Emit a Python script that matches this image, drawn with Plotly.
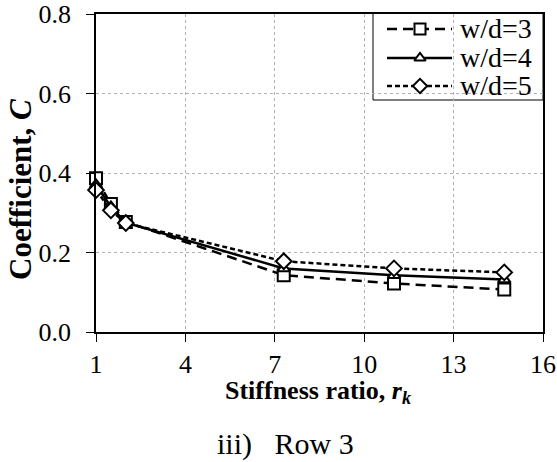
import plotly.graph_objects as go

# ---- data ----
stiffness_ratio = [1.0, 1.5, 2.0, 7.3, 11.0, 14.7]
series_names = ["w/d=3", "w/d=4", "w/d=5"]
c_wd3 = [0.387, 0.322, 0.277, 0.143, 0.122, 0.107]
c_wd4 = [0.370, 0.315, 0.275, 0.160, 0.143, 0.132]
c_wd5 = [0.357, 0.306, 0.274, 0.178, 0.160, 0.150]
x_ticks = [1, 4, 7, 10, 13, 16]
y_ticks = [0.0, 0.2, 0.4, 0.6, 0.8]

FONT = "Liberation Serif"
W, H = 557, 462
L, R, T, B = 96, 14, 14, 130
PW, PH = W - L - R, H - T - B

def px(xp):
    return (xp - L) / PW

def py(yp):
    return (H - B - yp) / PH

styles = [
    dict(dash="10px,6px", symbol="square", size=12),
    dict(dash="solid", symbol="triangle-up", size=11),
    dict(dash="5px,3px", symbol="diamond", size=12),
]
values = [c_wd3, c_wd4, c_wd5]

fig = go.Figure()
for name, vals, st in zip(series_names, values, styles):
    fig.add_trace(go.Scatter(
        x=stiffness_ratio, y=vals, name=name, mode="lines+markers",
        line=dict(color="black", width=2.5, dash=st["dash"]),
        marker=dict(symbol=st["symbol"], size=st["size"], color="white",
                    line=dict(color="black", width=2)),
        showlegend=False, cliponaxis=False))

# ---- custom legend ----
row_y = [29, 58, 86]
shapes = [dict(type="rect", xref="paper", yref="paper",
               x0=px(373), x1=px(543), y0=py(100), y1=py(13),
               line=dict(color="black", width=1), fillcolor="white", layer="between")]
annotations = []
for name, st, ry in zip(series_names, styles, row_y):
    shapes.append(dict(type="line", xref="paper", yref="paper",
                       x0=px(387), x1=px(452), y0=py(ry), y1=py(ry),
                       line=dict(color="black", width=2.5, dash=st["dash"]),
                       layer="between"))
    annotations.append(dict(xref="paper", yref="paper", x=px(458), y=py(ry),
                            xanchor="left", yanchor="middle", showarrow=False,
                            text=name, font=dict(family=FONT, size=28, color="black")))
    fig.add_trace(go.Scatter(
        x=[px(420)], y=[py(ry)], xaxis="x2", yaxis="y2", mode="markers",
        marker=dict(symbol=st["symbol"], size=st["size"] - 1, color="white",
                    line=dict(color="black", width=2)),
        showlegend=False, hoverinfo="skip", cliponaxis=False))

# titles and caption
annotations.append(dict(xref="paper", yref="paper", x=px(20), y=py(190),
                        textangle=-90, showarrow=False, xanchor="center", yanchor="middle",
                        text="<b>Coefficient, <i>C</i></b>",
                        font=dict(family=FONT, size=31, color="black")))
annotations.append(dict(xref="paper", yref="paper", x=px(318), y=py(392),
                        showarrow=False, xanchor="center", yanchor="middle",
                        text="<b>Stiffness ratio, <i>r<sub>k</sub></i></b>",
                        font=dict(family=FONT, size=26, color="black")))
annotations.append(dict(xref="paper", yref="paper", x=px(285), y=py(444),
                        showarrow=False, xanchor="center", yanchor="middle",
                        text="iii)   Row 3",
                        font=dict(family=FONT, size=30, color="black")))

axis_common = dict(showline=True, linecolor="black", linewidth=1.5, mirror=True,
                   ticks="outside", ticklen=8, tickcolor="black", tickwidth=1,
                   showgrid=True, gridcolor="#b0b0b0", griddash="dot", gridwidth=1,
                   zeroline=False, automargin=False,
                   tickfont=dict(family=FONT, size=26, color="black"))

fig.update_layout(
    width=W, height=H, margin=dict(l=L, r=R, t=T, b=B),
    plot_bgcolor="white", paper_bgcolor="white",
    xaxis=dict(range=[1, 16], tickvals=x_ticks, ticklabelstandoff=0, **axis_common),
    yaxis=dict(range=[0, 0.8], tickvals=y_ticks, tickformat=".1f",
               ticklabelstandoff=10, **axis_common),
    xaxis2=dict(overlaying="x", range=[0, 1], visible=False),
    yaxis2=dict(overlaying="y", range=[0, 1], visible=False),
    shapes=shapes, annotations=annotations, showlegend=False,
)

fig.write_html("out.html")
